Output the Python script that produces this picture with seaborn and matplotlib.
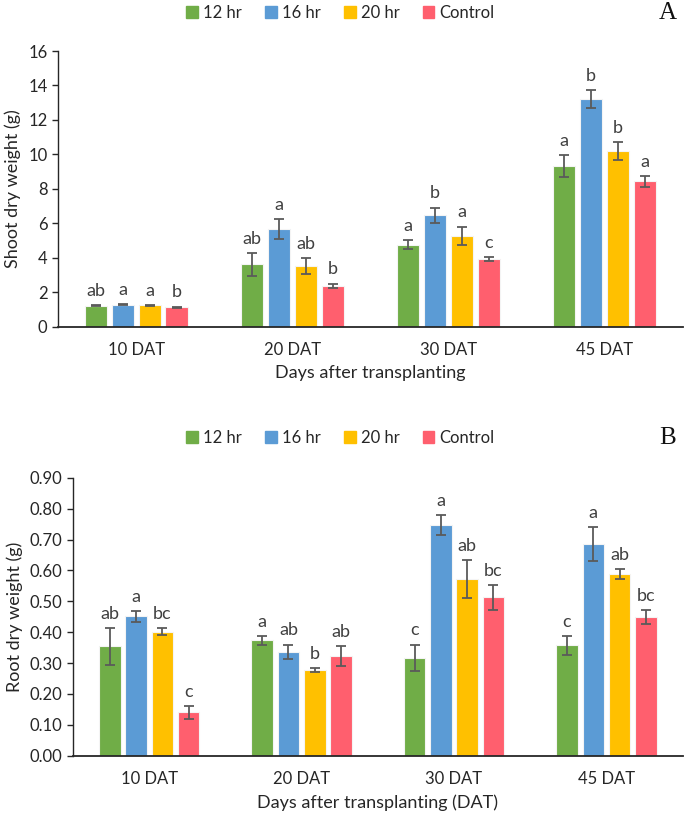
import pandas as pd
import matplotlib
matplotlib.use('Agg')
import matplotlib.pyplot as plt
import seaborn as sns

days = ['10 DAT', '20 DAT', '30 DAT', '45 DAT']
treatments = ['12 hr', '16 hr', '20 hr', 'Control']
colors = ['#70AD47', '#5B9BD5', '#FFC000', '#FF5F6E']

# shoot dry weight (g), one list per treatment, in order of days
shoot_12 = [1.22, 3.62, 4.76, 9.33]
shoot_16 = [1.26, 5.67, 6.47, 13.20]
shoot_20 = [1.24, 3.52, 5.26, 10.18]
shoot_ctrl = [1.13, 2.36, 3.93, 8.44]
shoot_err_12 = [0.04, 0.67, 0.25, 0.64]
shoot_err_16 = [0.03, 0.58, 0.44, 0.52]
shoot_err_20 = [0.03, 0.48, 0.54, 0.52]
shoot_err_ctrl = [0.03, 0.14, 0.10, 0.32]
shoot_let_12 = ['ab', 'ab', 'a', 'a']
shoot_let_16 = ['a', 'a', 'b', 'b']
shoot_let_20 = ['a', 'ab', 'a', 'b']
shoot_let_ctrl = ['b', 'b', 'c', 'a']

# root dry weight (g)
root_12 = [0.354, 0.374, 0.317, 0.357]
root_16 = [0.451, 0.336, 0.747, 0.686]
root_20 = [0.402, 0.277, 0.572, 0.589]
root_ctrl = [0.140, 0.322, 0.513, 0.449]
root_err_12 = [0.060, 0.014, 0.043, 0.031]
root_err_16 = [0.018, 0.024, 0.033, 0.054]
root_err_20 = [0.012, 0.007, 0.062, 0.016]
root_err_ctrl = [0.021, 0.032, 0.040, 0.023]
root_let_12 = ['ab', 'a', 'c', 'c']
root_let_16 = ['a', 'ab', 'a', 'a']
root_let_20 = ['bc', 'b', 'ab', 'ab']
root_let_ctrl = ['c', 'ab', 'bc', 'bc']


def long_df(vals, errs, lets):
    rows = []
    for t, v, e, l in zip(treatments, vals, errs, lets):
        for d, vv, ee, ll in zip(days, v, e, l):
            rows.append({'day': d, 'treatment': t, 'value': vv, 'err': ee, 'letter': ll})
    return pd.DataFrame(rows)


df_shoot = long_df([shoot_12, shoot_16, shoot_20, shoot_ctrl],
                   [shoot_err_12, shoot_err_16, shoot_err_20, shoot_err_ctrl],
                   [shoot_let_12, shoot_let_16, shoot_let_20, shoot_let_ctrl])
df_root = long_df([root_12, root_16, root_20, root_ctrl],
                  [root_err_12, root_err_16, root_err_20, root_err_ctrl],
                  [root_let_12, root_let_16, root_let_20, root_let_ctrl])

sns.set_style('white')
plt.rcParams['font.family'] = ['Lato', 'DejaVu Sans']
txt = '#262626'

fig = plt.figure(figsize=(6.85, 8.14), dpi=100)
ax1 = fig.add_axes([0.0847, 0.5987, 0.912, 0.3386])
ax2 = fig.add_axes([0.1066, 0.0716, 0.890, 0.3415])


def draw(ax, df, ylim, yticks, fmt, ylabel, xlabel):
    sns.barplot(data=df, x='day', y='value', hue='treatment', order=days,
                hue_order=treatments, palette=colors, errorbar=None,
                width=0.69, gap=0.18, saturation=1, edgecolor='#f4f4f4',
                linewidth=0.8, ax=ax, legend=False)
    for cont, t in zip(ax.containers, treatments):
        sub = df[df['treatment'] == t].set_index('day').loc[days]
        xs = [b.get_x() + b.get_width() / 2 for b in cont]
        ax.errorbar(xs, sub['value'], yerr=sub['err'], fmt='none',
                    ecolor='#5a5a5a', elinewidth=1.3, capsize=3.8, capthick=1.3)
        for x, v, e, l in zip(xs, sub['value'], sub['err'], sub['letter']):
            ax.annotate(l, (x, v + e), xytext=(0, 4.5), textcoords='offset points',
                        ha='center', va='bottom', fontsize=13, color='#404040')
    ax.set_ylim(*ylim)
    ax.set_yticks(yticks)
    ax.set_yticklabels([fmt.format(v) for v in yticks])
    ax.set_xlim(-0.5, 3.5)
    ax.set_ylabel(ylabel, fontsize=13, color=txt, labelpad=5)
    ax.set_xlabel(xlabel, fontsize=13, color=txt, labelpad=5)
    sns.despine(ax=ax)
    ax.spines['left'].set_color('#262626')
    ax.spines['bottom'].set_color('#262626')
    ax.spines['left'].set_linewidth(1.0)
    ax.spines['bottom'].set_linewidth(1.3)
    ax.tick_params(axis='y', direction='out', length=4, width=1, color='#262626',
                   labelsize=12, labelcolor=txt, left=True)
    ax.tick_params(axis='x', length=0, labelsize=12, labelcolor=txt, pad=11)


draw(ax1, df_shoot, (0, 16), list(range(0, 17, 2)), '{:.0f}',
     'Shoot dry weight (g)', 'Days after transplanting')
draw(ax2, df_root, (0, 0.9), [i / 10 for i in range(10)], '{:.2f}',
     'Root dry weight (g)', 'Days after transplanting (DAT)')

handles = [plt.Rectangle((0, 0), 1, 1, color=c) for c in colors]
for cy, tag in [(0.984, 'A'), (0.462, 'B')]:
    fig.legend(handles, treatments, loc='center', bbox_to_anchor=(0.497, cy), ncol=4,
               frameon=False, fontsize=12, handlelength=0.7, handleheight=0.7,
               handletextpad=0.3, columnspacing=1.4, labelcolor=txt)
    fig.text(0.962, cy, tag, fontsize=18, family='Liberation Serif', ha='left', va='center',
             color='#111111')

fig.savefig('out.png', dpi=100)
